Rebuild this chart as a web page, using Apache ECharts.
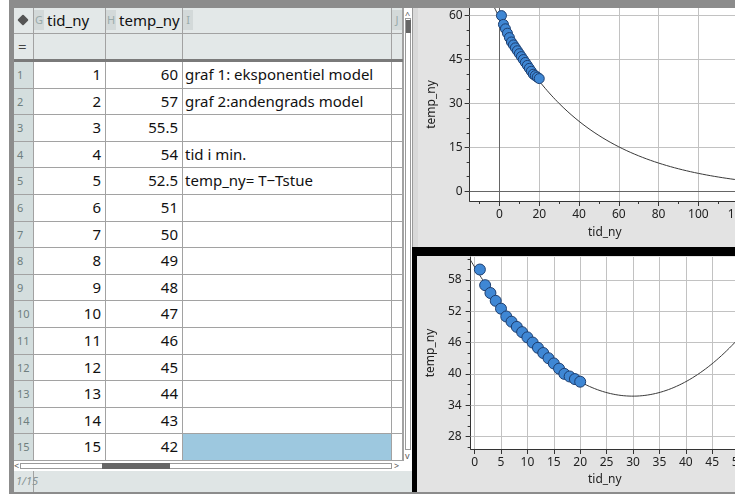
<!DOCTYPE html>
<html>
<head>
<meta charset="utf-8">
<script src="https://cdn.jsdelivr.net/npm/echarts@6/dist/echarts.min.js"></script>
<style>
html, body { margin: 0; padding: 0; width: 735px; height: 494px; overflow: hidden; background: #fff; font-family: "Noto Sans", sans-serif; }
#frame { position: absolute; left: 0; top: 0; width: 735px; height: 494px; overflow: hidden; }
.abs { position: absolute; box-sizing: border-box; }
.cell { position: absolute; box-sizing: border-box; border-right: 1px solid #a2a2a2; border-bottom: 1px solid #a2a2a2; white-space: nowrap; overflow: hidden; color: #111; font-size: 15px; }
.num { text-align: right; padding-right: 4px; }
.rn { background: #d4dede; color: #6f7f7f; font-size: 11px; padding-left: 3px; }
.hd { background: #e3e8e8; }
.letter { position: absolute; left: 0; top: 2px; height: 20px; width: 10px; background: #d3d9d9; color: #9aa; font-size: 11px; line-height: 20px; text-align: center; }
#topChart { position: absolute; left: 418px; top: 8px; width: 360px; height: 239px; background: #e3e3e3; }
#botChart { position: absolute; left: 417px; top: 256px; width: 361px; height: 236px; background: #e3e3e3; }
</style>
</head>
<body>
<div id="frame">
  <div class="abs" style="left:9px;top:0;width:726px;height:8px;background:#8c8c8c"></div>
  <div class="abs" style="left:9px;top:0;width:5px;height:494px;background:#8c8c8c"></div>
  <div class="abs" style="left:9px;top:492px;width:726px;height:2px;background:#8c8c8c"></div>
  <div id="sheet" class="abs" style="left:14px;top:8px;width:398px;height:484px;background:#fff"></div>
  <div class="abs" style="left:412px;top:8px;width:6px;height:239px;background:#d9d9d9;border-left:1px solid #9a9a9a"></div>
  <div id="topChart"></div>
  <div id="botChart"></div>
  <div class="abs" style="left:412px;top:247px;width:323px;height:9px;background:#000"></div>
  <div class="abs" style="left:412px;top:247px;width:5px;height:245px;background:#000"></div>
</div>
<script>
// data from the spreadsheet (tid_ny in minutes, temp_ny = T - Tstue)
var tid = [1, 2, 3, 4, 5, 6, 7, 8, 9, 10, 11, 12, 13, 14, 15, 16, 17, 18, 19, 20];
var temp = [60, 57, 55.5, 54, 52.5, 51, 50, 49, 48, 47, 46, 45, 44, 43, 42, 41, 40, 39.5, 39, 38.5];
var notes = ['graf 1: eksponentiel model', 'graf 2:andengrads model', '', 'tid i min.', 'temp_ny= T\u2212Tstue'];
var shownRows = 15;

// tick labels
var topXLabels = [0, 20, 40, 60, 80, 100, 120];
var topXMinor = [-10, 10, 30, 50, 70, 90, 110, 130];
var topYLabels = [0, 15, 30, 45, 60];
var topYMinor = [5, 10, 20, 25, 35, 40, 50, 55];
var botXLabels = [0, 5, 10, 15, 20, 25, 30, 35, 40, 45, 50, 55];
var botYLabels = [28, 34, 40, 46, 52, 58];
var botYMinor = [26, 30, 32, 36, 38, 42, 44, 48, 50, 54, 56, 60, 62];

// ---------- spreadsheet ----------
var sheet = document.getElementById('sheet');
var cols = [{x: 0, w: 20}, {x: 20, w: 72}, {x: 92, w: 77}, {x: 169, w: 209}, {x: 378, w: 11}];
var rowH = 26.6, rowTop = 54;

function addCell(x, y, w, h, cls, html, style) {
  var d = document.createElement('div');
  d.className = 'cell ' + (cls || '');
  d.style.left = x + 'px'; d.style.top = y + 'px';
  d.style.width = w + 'px'; d.style.height = h + 'px';
  d.style.lineHeight = (h - 1) + 'px';
  if (style) d.style.cssText += style;
  d.innerHTML = html || '';
  sheet.appendChild(d);
  return d;
}

// header row
addCell(0, 0, 20, 26, 'hd', '<div class="abs" style="left:5px;top:8px;width:8px;height:8px;background:#555;transform:rotate(45deg);border-radius:1px"></div>');
var heads = [['G', 'tid_ny'], ['H', 'temp_ny'], ['I', ''], ['J', '']];
for (var c = 0; c < 4; c++) {
  addCell(cols[c + 1].x, 0, cols[c + 1].w, 26, 'hd',
    '<span class="letter">' + heads[c][0] + '</span><span style="position:absolute;left:13px">' + heads[c][1] + '</span>');
}
// formula row
addCell(0, 26, 20, 26, 'hd', '<span style="color:#444;font-size:15px;padding-left:1px">=</span>', 'padding-left:3px');
for (var c = 1; c < 5; c++) addCell(cols[c].x, 26, cols[c].w, 26, 'hd', '');
var thick = document.createElement('div');
thick.className = 'abs';
thick.style.cssText = 'left:0;top:51px;width:389px;height:3px;background:#7a7a7a';
sheet.appendChild(thick);

// data rows
for (var r = 0; r < shownRows; r++) {
  var y = rowTop + r * rowH;
  addCell(0, y, 20, rowH, 'rn', String(r + 1));
  addCell(cols[1].x, y, cols[1].w, rowH, 'num', String(tid[r]));
  addCell(cols[2].x, y, cols[2].w, rowH, 'num', String(temp[r]));
  var sel = (r === shownRows - 1) ? 'background:#9dc8df' : '';
  addCell(cols[3].x, y, cols[3].w, rowH, '', notes[r] || '', 'padding-left:2px;' + sel);
  addCell(cols[4].x, y, cols[4].w, rowH, '', '');
}

// scroll bars and status line
var extras = [
  'left:389px;top:0;width:9px;height:453px;background:#fff;border-left:1px solid #a2a2a2',
  'left:391px;top:10px;width:6px;height:432px;border:1px solid #9a9a9a;background:#fff',
  'left:392px;top:12px;width:5px;height:13px;background:#666',
  'left:0;top:453px;width:398px;height:10px;background:#fff',
  'left:6px;top:455px;width:372px;height:6px;border:1px solid #9a9a9a',
  'left:88px;top:455px;width:68px;height:6px;background:#666',
  'left:0;top:463px;width:398px;height:21px;background:#dfe5e5',
  'left:0;top:463px;width:20px;height:21px;border-right:1px solid #a2a2a2;background:#dfe5e5'
];
extras.forEach(function (s) {
  var d = document.createElement('div');
  d.className = 'abs'; d.style.cssText = s;
  sheet.appendChild(d);
});
var glyphs = [
  ['left:391px;top:0;font-size:9px;color:#555', '^'],
  ['left:391px;top:441px;font-size:9px;color:#555', 'v'],
  ['left:0;top:451px;font-size:9px;color:#555', '&lt;'],
  ['left:380px;top:451px;font-size:9px;color:#555', '&gt;'],
  ['left:2px;top:465px;font-size:11px;color:#8a9595;font-style:italic', '1/15']
];
glyphs.forEach(function (g) {
  var d = document.createElement('div');
  d.className = 'abs'; d.style.cssText = g[0]; d.innerHTML = g[1];
  sheet.appendChild(d);
});

// ---------- regression models ----------
function expFit(xs, ys) {
  var n = xs.length, sx = 0, sy = 0, sxx = 0, sxy = 0;
  for (var i = 0; i < n; i++) {
    var ly = Math.log(ys[i]);
    sx += xs[i]; sy += ly; sxx += xs[i] * xs[i]; sxy += xs[i] * ly;
  }
  var B = (n * sxy - sx * sy) / (n * sxx - sx * sx);
  var A = (sy - B * sx) / n;
  return [Math.exp(A), Math.exp(B)];
}
function quadFit(xs, ys) {
  var s = [0, 0, 0, 0, 0], t = [0, 0, 0];
  for (var i = 0; i < xs.length; i++) {
    var p = 1;
    for (var k = 0; k < 5; k++) { s[k] += p; if (k < 3) t[k] += p * ys[i]; p *= xs[i]; }
  }
  var M = [[s[0], s[1], s[2], t[0]], [s[1], s[2], s[3], t[1]], [s[2], s[3], s[4], t[2]]];
  for (var c = 0; c < 3; c++) {
    for (var r = c + 1; r < 3; r++) {
      var f = M[r][c] / M[c][c];
      for (var k = c; k < 4; k++) M[r][k] -= f * M[c][k];
    }
  }
  var x = [0, 0, 0];
  for (var r = 2; r >= 0; r--) {
    var v = M[r][3];
    for (var k = r + 1; k < 3; k++) v -= M[r][k] * x[k];
    x[r] = v / M[r][r];
  }
  return x; // a + b x + c x^2
}
var ex = expFit(tid, temp);
var qd = quadFit(tid, temp);
var expCurve = [], quadCurve = [];
for (var x = -15; x <= 135; x += 1) expCurve.push([x, ex[0] * Math.pow(ex[1], x)]);
for (var x = -1; x <= 56; x += 0.25) quadCurve.push([x, qd[0] + qd[1] * x + qd[2] * x * x]);
var points = tid.map(function (t, i) { return [t, temp[i]]; });

// ---------- charts ----------
var font = '"Noto Sans", sans-serif';
var axisColor = '#333';
var gridColor = '#c2c2c2';

function mainAxis(min, max, labels, extra) {
  var a = {
    type: 'value', min: min, max: max,
    axisLine: {show: true, onZero: false, lineStyle: {color: axisColor, width: 1}},
    axisTick: {show: true, customValues: labels, length: 5, lineStyle: {color: axisColor}},
    axisLabel: {customValues: labels, color: '#222', fontSize: 12, fontFamily: font, margin: 8},
    splitLine: {show: false},
    nameLocation: 'middle',
    nameTextStyle: {color: '#222', fontSize: 12, fontFamily: font}
  };
  for (var k in extra) a[k] = extra[k];
  return a;
}
function minorAxis(min, max, ticks, pos) {
  return {
    type: 'value', min: min, max: max, position: pos,
    axisLine: {show: false, onZero: false},
    axisTick: {show: true, customValues: ticks, length: 3, lineStyle: {color: axisColor}},
    axisLabel: {show: false},
    splitLine: {show: false}
  };
}
// light grid lines at the labelled ticks, attached to the curve series
function gridLines(xs, ys) {
  var d = [];
  xs.forEach(function (v) { d.push({xAxis: v}); });
  ys.forEach(function (v) { d.push({yAxis: v}); });
  return d;
}
var scatterStyle = {color: '#3f87d4', borderColor: '#1d3e6f', borderWidth: 1, opacity: 1};

var topChart = echarts.init(document.getElementById('topChart'));
topChart.setOption({
  animation: false,
  grid: {left: 46, top: 0, width: 304, height: 193, show: true, backgroundColor: '#fff', borderWidth: 0},
  xAxis: [
    mainAxis(-15, 135, topXLabels, {position: 'bottom', name: 'tid_ny', nameGap: 26,
      nameTextStyle: {color: '#222', fontSize: 12, fontFamily: font, padding: [0, 28, 0, 0]}}),
    minorAxis(-15, 135, topXMinor, 'bottom')
  ],
  yAxis: [
    mainAxis(-3.3, 62.6, topYLabels, {position: 'left', name: 'temp_ny', nameGap: 24,
      axisLabel: {customValues: topYLabels, color: '#222', fontSize: 12, fontFamily: font, margin: 7}}),
    minorAxis(-3.3, 62.6, topYMinor, 'left')
  ],
  series: [
    {
      type: 'line', data: [], silent: true,
      markLine: {
        silent: true, symbol: ['none', 'none'], label: {show: false},
        lineStyle: {color: gridColor, width: 1, type: 'solid'},
        data: gridLines(topXLabels.slice(1), topYLabels.slice(1))
      }
    },
    {
      type: 'line', data: [], silent: true,
      markLine: {
        silent: true, symbol: ['none', 'none'], label: {show: false},
        lineStyle: {color: '#666', width: 1, type: 'solid'},
        data: [{xAxis: 0}, {yAxis: 0}]
      }
    },
    {type: 'line', data: expCurve, showSymbol: false, silent: true, clip: true, z: 10,
      lineStyle: {color: '#3a3a3a', width: 1}},
    {type: 'scatter', data: points, symbolSize: 10, itemStyle: scatterStyle, z: 11}
  ]
});

var botChart = echarts.init(document.getElementById('botChart'));
botChart.setOption({
  animation: false,
  grid: {left: 48, top: 1, width: 300, height: 192, show: true, backgroundColor: '#fff', borderWidth: 0},
  xAxis: [
    mainAxis(-0.75, 55, botXLabels, {position: 'bottom', name: 'tid_ny', nameGap: 19,
      nameTextStyle: {color: '#222', fontSize: 12, fontFamily: font, padding: [0, 26, 0, 0]}})
  ],
  yAxis: [
    mainAxis(25.6, 62.4, botYLabels, {position: 'left', name: 'temp_ny', nameGap: 24,
      axisLabel: {customValues: botYLabels, color: '#222', fontSize: 12, fontFamily: font, margin: 9}}),
    minorAxis(25.6, 62.4, botYMinor, 'left')
  ],
  series: [
    {
      type: 'line', data: [], silent: true,
      markLine: {
        silent: true, symbol: ['none', 'none'], label: {show: false},
        lineStyle: {color: gridColor, width: 1, type: 'solid'},
        data: gridLines(botXLabels, botYLabels)
      }
    },
    {type: 'line', data: quadCurve, showSymbol: false, silent: true, clip: true, z: 10,
      lineStyle: {color: '#3a3a3a', width: 1}},
    {type: 'scatter', data: points, symbolSize: 11, itemStyle: scatterStyle, z: 11}
  ]
});
</script>
</body>
</html>
